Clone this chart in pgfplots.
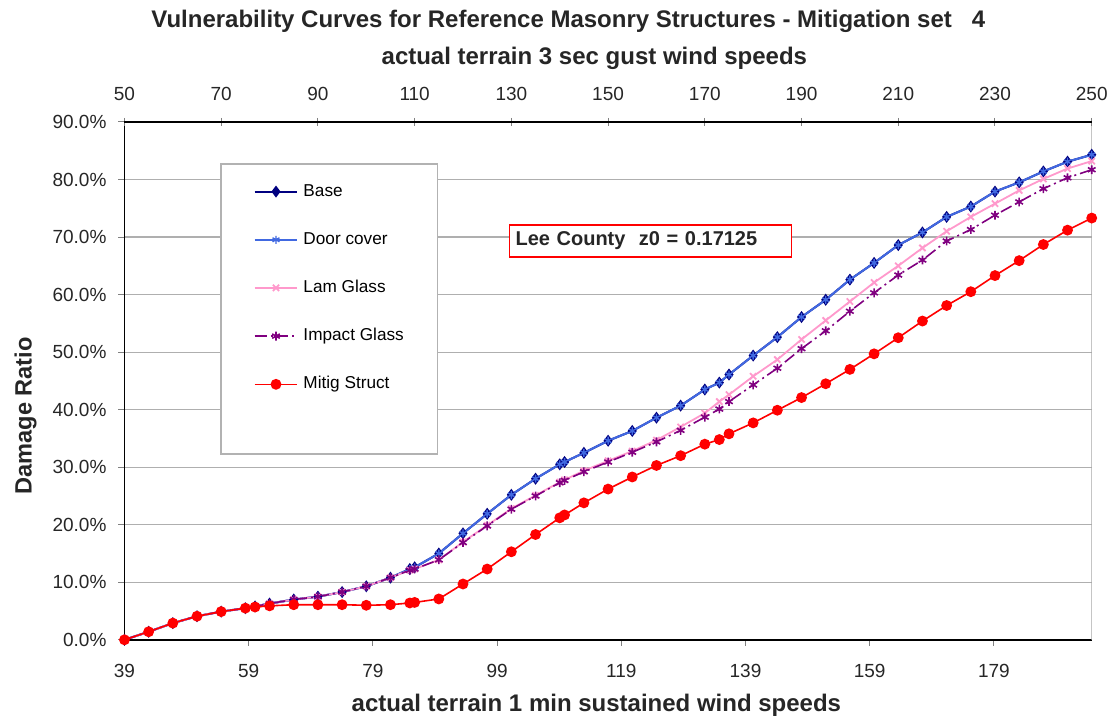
\documentclass[border=0pt]{standalone}
\usepackage{pgfplots}
\usepackage{pgfplotstable}
\pgfplotsset{compat=1.18}
\usepackage{fontspec}
\setmainfont{Liberation Sans}
\definecolor{basecol}{RGB}{0,0,128}
\definecolor{doorcol}{RGB}{65,105,225}
\definecolor{lamcol}{RGB}{255,153,204}
\definecolor{impcol}{RGB}{128,0,128}
\definecolor{mitcol}{RGB}{255,0,0}
\definecolor{gridcol}{RGB}{175,175,175}

\pgfplotstableread{
x   base  lam   imp   mit
50  0.0   0.0   0.0   0.0
55  1.4   1.4   1.4   1.4
60  2.9   2.9   2.9   2.9
65  4.1   4.1   4.1   4.1
70  4.9   4.9   4.9   4.9
75  5.5   5.5   5.5   5.5
77  5.8   5.8   5.8   5.7
80  6.3   6.3   6.3   5.9
85  7.0   7.0   7.0   6.1
90  7.5   7.5   7.5   6.1
95  8.3   8.3   8.3   6.1
100 9.3   9.3   9.3   6.0
105 10.8  10.8  10.8  6.1
109 12.3  12.1  12.1  6.4
110 12.6  12.3  12.3  6.5
115 15.0  13.9  13.9  7.1
120 18.5  17.0  16.9  9.7
125 21.9  19.9  19.8  12.3
130 25.2  22.8  22.7  15.3
135 28.0  25.1  25.0  18.3
140 30.5  27.4  27.3  21.2
141 30.9  27.8  27.7  21.7
145 32.5  29.4  29.2  23.8
150 34.6  31.1  30.9  26.2
155 36.3  32.8  32.6  28.3
160 38.6  34.7  34.4  30.3
165 40.7  37.0  36.4  32.0
170 43.5  39.4  38.7  34.0
173 44.7  41.4  40.1  34.8
175 46.1  42.6  41.4  35.8
180 49.4  45.8  44.3  37.7
185 52.6  48.7  47.2  39.9
190 56.1  52.2  50.6  42.1
195 59.1  55.5  53.7  44.5
200 62.6  58.8  57.1  47.0
205 65.5  62.1  60.3  49.7
210 68.6  65.0  63.4  52.5
215 70.8  68.1  66.0  55.4
220 73.5  71.0  69.3  58.1
225 75.3  73.5  71.3  60.5
230 77.9  75.8  73.8  63.3
235 79.5  78.1  76.1  65.9
240 81.4  80.1  78.4  68.7
245 83.1  81.9  80.3  71.2
250 84.3  83.2  81.7  73.3
}\data

\begin{document}
\begin{tikzpicture}
\begin{axis}[
  name=main,
  scale only axis, width=483.75pt, height=259pt,
  xmin=50, xmax=250, ymin=0, ymax=90,
  axis x line*=bottom, axis y line*=left,
  axis line style={black, line width=0.8pt},
  xtick={50,75.68,101.36,127.05,152.73,178.41,204.09,229.77},
  xticklabels={39,59,79,99,119,139,159,179},
  ytick={0,10,...,90},
  yticklabel={\pgfmathprintnumber[fixed,fixed zerofill,precision=1]{\tick}\%},
  /pgf/number format/assume math mode=true,
  ymajorgrids, grid style={gridcol, line width=0.6pt},
  tick align=outside, major tick length=3pt,
  tick style={gray, line width=0.5pt},
  ticklabel style={font=\fontsize{9.5}{11}\selectfont, text=black!85},
  xticklabel style={yshift=-5.5pt},
  yticklabel style={xshift=-2.5pt},
  legend style={draw=none, fill=none, at={(0.133,0.882)}, anchor=north west,
    inner sep=0pt, row sep=16pt, font=\fontsize{8.6}{10}\selectfont,
    nodes={inner sep=0pt, text height=6.3pt, text depth=1.8pt},
    /tikz/every odd column/.append style={column sep=2.5pt}},
  legend cell align=left,
  legend image code/.code={\draw[mark repeat=2,mark phase=2,#1] plot coordinates {(0pt,0pt) (10.75pt,0pt) (21.5pt,0pt)};},
]
\draw[gray!60, line width=0.8pt, fill=white] (axis cs:69.95,32.3) rectangle (axis cs:114.76,82.65);
\addplot[basecol, line width=1pt, mark=diamond*, mark size=2.2pt] table[x=x,y=base]{\data};
\addlegendentry{Base}
\addplot[doorcol, line width=1pt, mark=asterisk, mark size=2pt, mark options={line width=0.7pt}] table[x=x,y=base]{\data};
\addlegendentry{Door cover}
\addplot[lamcol, line width=0.9pt, mark=x, mark size=2.2pt, mark options={line width=0.9pt}] table[x=x,y=lam]{\data};
\addlegendentry{Lam Glass}
\addplot[impcol, line width=0.8pt, dash pattern=on 6pt off 2pt on 1pt off 2pt, mark=asterisk, mark size=2.2pt, mark options={solid, line width=0.8pt}] table[x=x,y=imp]{\data};
\addlegendentry{Impact Glass}
\addplot[mitcol, line width=0.8pt, mark=*, mark size=2.3pt] table[x=x,y=mit]{\data};
\addlegendentry{Mitig Struct}
\draw[gray!70, line width=0.8pt] (rel axis cs:1,0) -- (rel axis cs:1,1);
\node[draw=red, line width=0.75pt, fill=white, inner xsep=3pt, inner ysep=0pt, text width=135pt, align=left, minimum height=16pt, font=\bfseries\fontsize{10}{12}\selectfont, text=black!85] at (axis cs:158.77,69.3) {Lee County\ \ z0 = 0.17125};
\end{axis}
\begin{axis}[
  scale only axis, width=483.75pt, height=259pt,
  at={(main.south west)}, anchor=south west,
  xmin=50, xmax=250, ymin=0, ymax=90,
  axis x line*=top, axis y line=none,
  axis line style={black, line width=0.8pt},
  xtick={50,70,...,250},
  tick align=center, major tick length=4pt,
  tick style={gray, line width=0.5pt},
  /pgf/number format/assume math mode=true,
  ticklabel style={font=\fontsize{9.5}{11}\selectfont, text=black!85},
  xticklabel style={yshift=5pt},
]
\end{axis}
\node[anchor=base, font=\bfseries\fontsize{12}{14}\selectfont, text=black!85] at ([xshift=222pt, yshift=47pt]main.north west) {Vulnerability Curves for Reference Masonry Structures - Mitigation set\ \ \ 4};
\node[anchor=base, font=\bfseries\fontsize{12}{14}\selectfont, text=black!85] at ([xshift=235pt, yshift=28.5pt]main.north west) {actual terrain 3 sec gust wind speeds};
\node[anchor=base, font=\bfseries\fontsize{12}{14}\selectfont, text=black!85] at ([xshift=236pt, yshift=-36pt]main.south west) {actual terrain 1 min sustained wind speeds};
\node[anchor=base, rotate=90, font=\bfseries\fontsize{11.8}{14}\selectfont, text=black!85] at ([xshift=-46.4pt, yshift=112pt]main.south west) {Damage Ratio};
\path[use as bounding box] ([xshift=-62.25pt, yshift=-40.5pt]main.south west) rectangle ([xshift=12.65pt, yshift=61pt]main.north east);
\end{tikzpicture}
\end{document}
